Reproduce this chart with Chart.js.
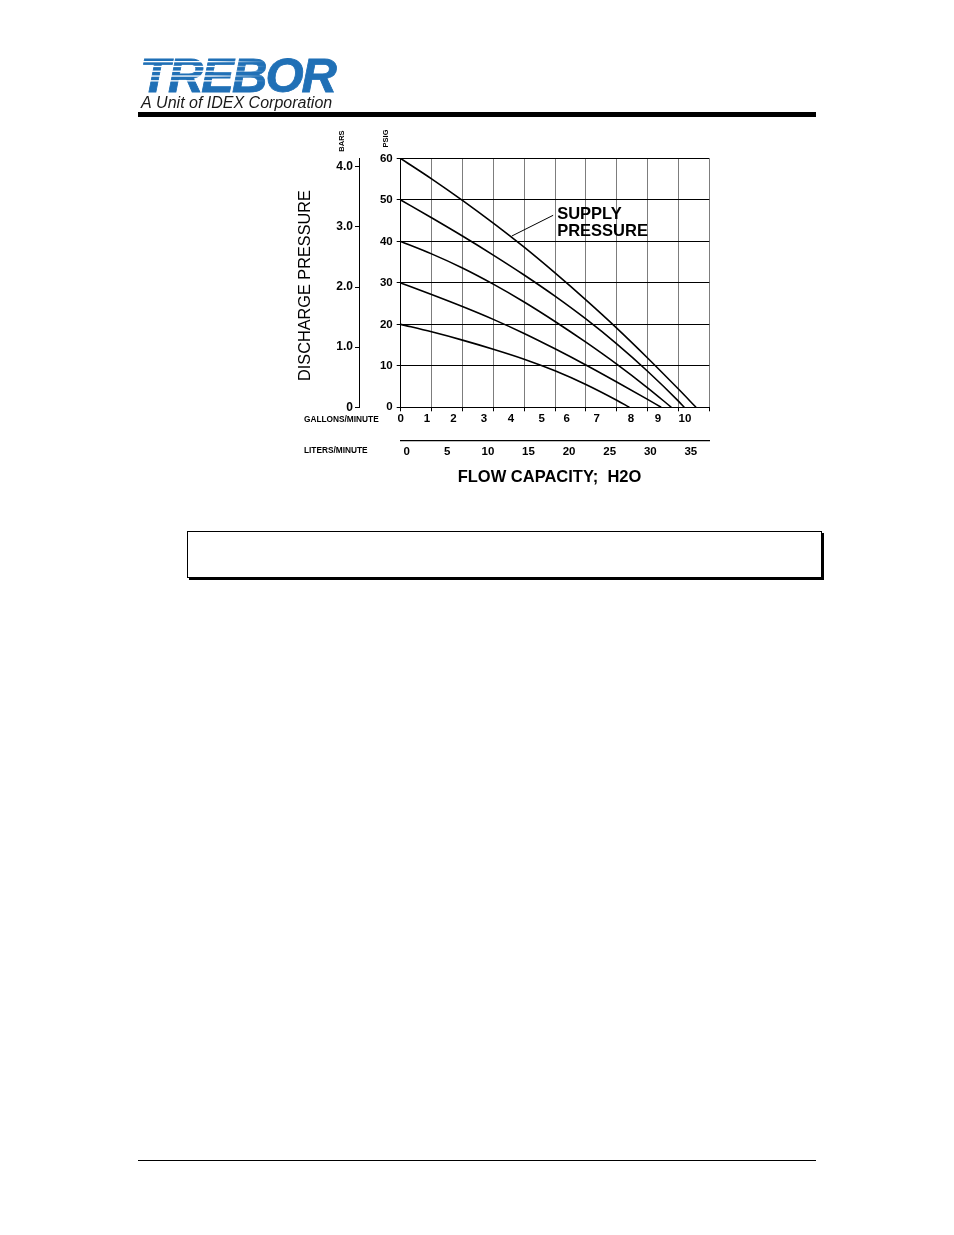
<!DOCTYPE html>
<html>
<head>
<meta charset="utf-8">
<script src="https://cdn.jsdelivr.net/npm/chart.js@4.4.1/dist/chart.umd.min.js"></script>
<style>
html,body{margin:0;padding:0;background:#fff;}
body{width:954px;height:1235px;position:relative;overflow:hidden;font-family:"Liberation Sans",Arial,sans-serif;}
.abs{position:absolute;}
#head{left:130px;top:45px;width:230px;height:70px;}
#rule{left:138px;top:112px;width:678px;height:5px;background:#000;}
#box{left:187px;top:531px;width:633px;height:45px;border:1px solid #000;box-shadow:2px 2px 0 #000;}
#foot{left:138px;top:1160px;width:678px;height:1px;background:#000;}
#wrap{left:290px;top:120px;width:440px;height:380px;}
</style>
</head>
<body>
<canvas id="head" class="abs" width="230" height="70"></canvas>
<div id="rule" class="abs"></div>
<div id="box" class="abs"></div>
<div id="foot" class="abs"></div>
<div id="wrap" class="abs"><canvas id="c" width="440" height="380"></canvas></div>
<script>
// ---- axis ticks / labels ----
const psiTicks = [0, 10, 20, 30, 40, 50, 60];
const barTicks = [0, 1, 2, 3, 4];
const barLabels = ['0', '1.0', '2.0', '3.0', '4.0'];
const gpmGrid = [0, 1, 2, 3, 4, 5, 6, 7, 8, 9, 10];
const gpmLabels = ['0', '1', '2', '3', '4', '5', '6', '7', '8', '9', '10'];
// where the printed GPM labels sit on the original (in gallon units)
const gpmLabelAt = [0, 0.85, 1.71, 2.70, 3.57, 4.57, 5.38, 6.35, 7.46, 8.34, 9.21];
const lpmTicks = [0, 5, 10, 15, 20, 25, 30, 35];
const PSI_PER_BAR = 14.5038;

// ---- series: supply pressure curves (flow in GPM, discharge in PSIG) ----
const supplyLabels = ['60 PSIG', '50 PSIG', '40 PSIG', '30 PSIG', '20 PSIG'];
const flow60 = [0, 1, 2, 3, 4, 5, 6, 7, 8, 9, 9.57];
const psi60  = [60, 55.1, 49.9, 44.4, 38.6, 32.4, 25.9, 19.1, 11.9, 4.4, 0];
const flow50 = [0, 1, 2, 3, 4, 5, 6, 7, 8, 9, 9.19];
const psi50  = [50, 45.7, 41.3, 36.7, 31.9, 26.8, 21.3, 15.3, 8.7, 1.5, 0];
const flow40 = [0, 1, 2, 3, 4, 5, 6, 7, 8, 8.77];
const psi40  = [40, 37.0, 33.6, 29.7, 25.4, 20.7, 15.7, 10.4, 4.7, 0];
const flow30 = [0, 1, 2, 3, 4, 5, 6, 7, 8, 8.44];
const psi30  = [30, 27.2, 24.3, 21.2, 17.8, 14.1, 10.2, 6.1, 1.9, 0];
const flow20 = [0, 1, 2, 3, 4, 5, 6, 7, 7.41];
const psi20  = [20, 18.2, 16.2, 14.0, 11.6, 8.8, 5.5, 1.7, 0];

const calloutLines = ['SUPPLY', 'PRESSURE'];
const calloutTip = {x: 3.6, y: 41.3};
const calloutTail = {x: 4.94, y: 46.3};
const calloutText = {x: 5.07, y: 46.6};

const FONT = '"Liberation Sans", Arial, Helvetica, sans-serif';
Chart.defaults.font.family = FONT;
Chart.defaults.color = '#000';

// ---- header logo ----
(function () {
  const h = document.getElementById('head').getContext('2d');
  h.save();
  h.font = 'italic bold 49px ' + FONT;
  if ('letterSpacing' in h) h.letterSpacing = '-2px';
  h.fillStyle = '#2070b6';
  h.strokeStyle = '#2070b6';
  h.lineWidth = 0.8;
  h.textBaseline = 'alphabetic';
  h.fillText('TREBOR', 10, 47);
  h.strokeText('TREBOR', 10, 47);
  const g = h.createLinearGradient(12, 0, 137, 0);
  g.addColorStop(0, 'rgba(255,255,255,1)');
  g.addColorStop(0.55, 'rgba(255,255,255,1)');
  g.addColorStop(1, 'rgba(255,255,255,0)');
  h.fillStyle = g;
  [16, 20.8, 25.6, 30.4, 35.2].forEach(y => h.fillRect(12, y, 125, 1.3));
  h.restore();
  h.font = 'italic 16px ' + FONT;
  h.fillStyle = '#1a1a1a';
  h.fillText('A Unit of IDEX Corporation', 11, 63);
})();

function pts(xs, ys) { return xs.map((x, i) => ({x: x, y: ys[i]})); }
const series = [[flow60, psi60], [flow50, psi50], [flow40, psi40], [flow30, psi30], [flow20, psi20]];

const textPlugin = {
  id: 'texts',
  afterDraw(chart) {
    const ctx = chart.ctx;
    const xs = chart.scales.x, ys = chart.scales.y;
    ctx.save();
    ctx.fillStyle = '#000';
    ctx.strokeStyle = '#000';
    const rot = (txt, x, y, font) => {
      ctx.save(); ctx.translate(x, y); ctx.rotate(-Math.PI / 2);
      ctx.font = font; ctx.textAlign = 'center'; ctx.textBaseline = 'middle';
      ctx.fillText(txt, 0, 0); ctx.restore();
    };
    rot('DISCHARGE PRESSURE', 15.5, 165.5, '16.3px ' + FONT);
    rot('BARS', 52, 21, 'bold 7.5px ' + FONT);
    rot('PSIG', 96, 18.5, 'bold 7.5px ' + FONT);
    ctx.textAlign = 'left'; ctx.textBaseline = 'middle';
    ctx.font = 'bold 8.3px ' + FONT;
    ctx.fillText('GALLONS/MINUTE', 14, 300);
    ctx.fillText('LITERS/MINUTE', 14, 330.5);
    ctx.textAlign = 'center';
    ctx.font = 'bold 16.5px ' + FONT;
    ctx.fillText('FLOW CAPACITY;  H2O', 259.5, 357);
    // callout
    const tx = xs.getPixelForValue(calloutText.x), ty = ys.getPixelForValue(calloutText.y);
    ctx.textAlign = 'left';
    ctx.font = 'bold 16.5px ' + FONT;
    ctx.fillText(calloutLines[0], tx, ty);
    ctx.fillText(calloutLines[1], tx, ty + 17);
    ctx.lineWidth = 1;
    ctx.beginPath();
    ctx.moveTo(xs.getPixelForValue(calloutTail.x), ys.getPixelForValue(calloutTail.y));
    ctx.lineTo(xs.getPixelForValue(calloutTip.x), ys.getPixelForValue(calloutTip.y));
    ctx.stroke();
    ctx.restore();
  }
};

new Chart(document.getElementById('c'), {
  type: 'line',
  data: {
    datasets: series.map((s, i) => ({
      label: supplyLabels[i],
      data: pts(s[0], s[1]),
      borderColor: '#000',
      borderWidth: 1.6,
      pointRadius: 0,
      fill: false,
      cubicInterpolationMode: 'monotone',
      xAxisID: 'x',
      yAxisID: 'y'
    }))
  },
  options: {
    responsive: false,
    animation: false,
    layout: {padding: {left: 0, top: 38.5, right: 20.7, bottom: 0}},
    plugins: {legend: {display: false}, tooltip: {enabled: false}},
    scales: {
      x: {
        type: 'linear', min: 0, max: 10, position: 'bottom', weight: 0,
        afterBuildTicks: s => { s.ticks = gpmGrid.map(v => ({value: v})); },
        ticks: {display: false},
        grid: {color: '#7d7d7d', lineWidth: 1, tickLength: 4, tickColor: '#000', drawTicks: true},
        border: {display: true, color: '#000', width: 1},
        afterFit: s => { s.height = 4.5; }
      },
      xg: {
        type: 'linear', min: 0, max: 10, position: 'bottom', weight: 1,
        afterBuildTicks: s => { s.ticks = gpmLabelAt.map(v => ({value: v})); },
        ticks: {autoSkip: false, maxRotation: 0, minRotation: 0, padding: 1, color: '#000',
          font: {size: 11.5, weight: 'bold', lineHeight: 1},
          callback: (v, i) => gpmLabels[i]},
        grid: {display: false, drawTicks: false},
        border: {display: false},
        afterFit: s => { s.height = 29.2; }
      },
      lpm: {
        type: 'linear', min: -0.74, max: 37.27, position: 'bottom', weight: 2,
        afterBuildTicks: s => { s.ticks = lpmTicks.map(v => ({value: v})); },
        ticks: {autoSkip: false, maxRotation: 0, minRotation: 0, padding: 5, color: '#000',
          font: {size: 11.5, weight: 'bold', lineHeight: 1},
          callback: (v) => String(v)},
        grid: {display: false, drawTicks: false},
        border: {display: true, color: '#000', width: 1.2},
        afterFit: s => { s.height = 59; }
      },
      y: {
        type: 'linear', min: 0, max: 60, position: 'left', weight: 0,
        afterBuildTicks: s => { s.ticks = psiTicks.map(v => ({value: v})); },
        ticks: {padding: 4, color: '#000', font: {size: 11.5, weight: 'bold', lineHeight: 1}},
        grid: {color: '#000', lineWidth: 1, tickLength: 4, tickColor: '#000'},
        border: {display: true, color: '#000', width: 1},
        afterFit: s => { s.width = 41.7; }
      },
      bar: {
        type: 'linear', min: 0, max: 60 / PSI_PER_BAR, position: 'left', weight: 1,
        afterBuildTicks: s => { s.ticks = barTicks.map(v => ({value: v})); },
        ticks: {padding: 2, color: '#000', font: {size: 12, weight: 'bold', lineHeight: 1},
          callback: (v, i) => barLabels[i]},
        grid: {drawOnChartArea: false, tickLength: 4, color: '#000', tickColor: '#000'},
        border: {display: true, color: '#000', width: 1},
        afterFit: s => { s.width = 69; }
      }
    }
  },
  plugins: [textPlugin]
});
</script>
</body>
</html>
